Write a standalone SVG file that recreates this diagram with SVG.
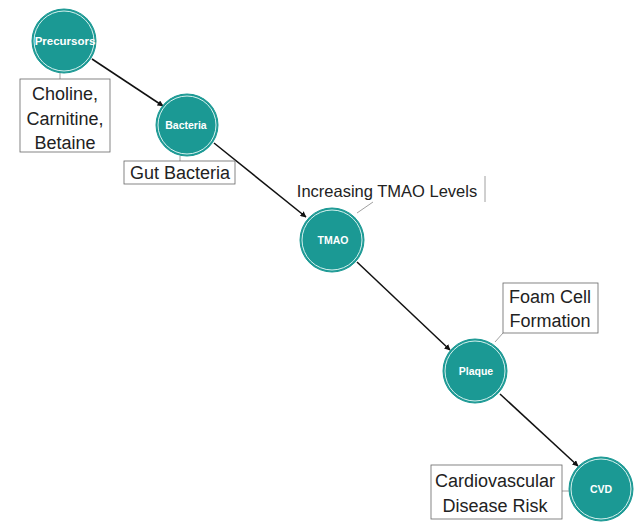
<svg xmlns="http://www.w3.org/2000/svg" width="638" height="522" viewBox="0 0 638 522">
<style>
.node circle.o{fill:#1b9994;stroke:#1b9994;stroke-width:1}
.node circle.i{fill:none;stroke:#d8f2ef;stroke-width:1}
.node text{font-family:"Liberation Sans",Arial,sans-serif;font-size:10.5px;font-weight:bold;fill:#fff;text-anchor:middle}
.lbl rect{fill:#fff;stroke:#666;stroke-width:0.8}
.lbl text{font-family:"Liberation Sans",Arial,sans-serif;font-size:18px;fill:#222;text-anchor:middle}
.lbl text.s{font-size:16.5px}
.lbl line{stroke:#888;stroke-width:0.8}
.edge{stroke:#111;stroke-width:1.5;fill:none;marker-end:url(#ah)}
</style>
<defs>
<marker id="ah" viewBox="0 0 10 10" refX="9" refY="5" markerWidth="6" markerHeight="6" orient="auto" markerUnits="userSpaceOnUse">
<path d="M0,0 L10,5 L0,10 z" fill="#111"/>
</marker>
</defs>
<rect width="638" height="522" fill="#fff"/>
<g id="connectors">
<line class="edge" x1="92" y1="59" x2="163" y2="106"/>
<line class="edge" x1="214" y1="143" x2="306" y2="217"/>
<line class="edge" x1="357" y1="262" x2="450" y2="350"/>
<line class="edge" x1="500" y1="394" x2="578" y2="466"/>
</g>
<g id="label-precursors" class="lbl">
<line x1="60" y1="72" x2="60" y2="79"/>
<rect x="20" y="79" width="90" height="73"/>
<text x="65" y="100">Choline,</text>
<text x="65" y="125">Carnitine,</text>
<text x="65" y="149">Betaine</text>
</g>
<g id="label-bacteria" class="lbl">
<line x1="180" y1="156" x2="180" y2="161"/>
<rect x="124" y="161" width="111" height="23"/>
<text x="180" y="179">Gut Bacteria</text>
</g>
<g id="label-tmao" class="lbl">
<line x1="373" y1="202" x2="357" y2="213"/>
<line x1="485" y1="176" x2="485" y2="202"/>
<text class="s" x="387" y="197">Increasing TMAO Levels</text>
</g>
<g id="label-plaque" class="lbl">
<line x1="503" y1="333" x2="495" y2="342"/>
<rect x="503" y="283" width="95" height="50"/>
<text x="550" y="303">Foam Cell</text>
<text x="550" y="327">Formation</text>
</g>
<g id="label-cvd" class="lbl">
<line x1="562" y1="491" x2="569" y2="491"/>
<rect x="431" y="465" width="131" height="54"/>
<text x="495" y="487">Cardiovascular</text>
<text x="495" y="512">Disease Risk</text>
</g>
<g id="node-precursors" class="node">
<circle class="o" cx="64" cy="41" r="32"/>
<circle class="i" cx="64" cy="41" r="30"/>
<text x="65" y="45" style="font-size:11.5px">Precursors</text>
</g>
<g id="node-bacteria" class="node">
<circle class="o" cx="187" cy="125" r="31"/>
<circle class="i" cx="187" cy="125" r="29"/>
<text x="186" y="129">Bacteria</text>
</g>
<g id="node-tmao" class="node">
<circle class="o" cx="332" cy="240" r="32"/>
<circle class="i" cx="332" cy="240" r="30"/>
<text x="333" y="244">TMAO</text>
</g>
<g id="node-plaque" class="node">
<circle class="o" cx="475" cy="371" r="32"/>
<circle class="i" cx="475" cy="371" r="30"/>
<text x="476" y="375">Plaque</text>
</g>
<g id="node-cvd" class="node">
<circle class="o" cx="601" cy="489" r="32"/>
<circle class="i" cx="601" cy="489" r="30"/>
<text x="601" y="493">CVD</text>
</g>
</svg>
